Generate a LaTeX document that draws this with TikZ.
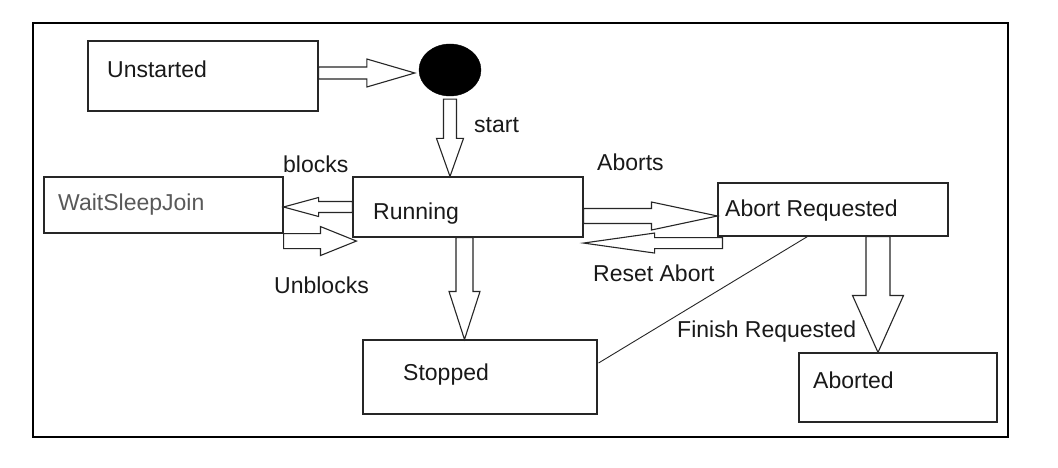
\documentclass[tikz,border=0pt]{standalone}
\usepackage{fontspec}
\setmainfont{Liberation Sans}
\usetikzlibrary{calc,shapes.geometric}
\tikzset{
  statebox/.style={draw=black!85, line width=1.1pt, minimum width=#1, inner sep=0pt},
  lbl/.style={inner sep=0pt, anchor=base west, font=\fontsize{23}{27}\selectfont, text=black!90},
  barrow/.style={draw=black!85, line width=1.1pt, fill=white, line join=miter},
}
\newcommand{\blockarrow}[5]{%
  \coordinate (ba-n) at ($(#2)!#5pt!(#1)$);
  \draw[barrow] ($(#1)!#3pt!90:(#2)$) -- ($(ba-n)!#3pt!90:(#2)$) -- ($(ba-n)!#4pt!90:(#2)$) -- (#2)
    -- ($(ba-n)!#4pt!-90:(#2)$) -- ($(ba-n)!#3pt!-90:(#2)$) -- ($(#1)!#3pt!-90:(#2)$) -- cycle;
}
\begin{document}
\begin{tikzpicture}[x=1pt,y=-1pt]
\useasboundingbox (0,0) rectangle (1058,468);
\fill[white] (0,0) rectangle (1058,468);
\draw[line width=2.5pt] (33,23) rectangle (1008,437);

% state boxes
\node[statebox=230pt, minimum height=70pt] (unstarted) at (203,76) {};
\node[statebox=239pt, minimum height=56pt] (wsj) at (163.5,205) {};
\node[statebox=230pt, minimum height=60pt] (running) at (468,207) {};
\node[statebox=230pt, minimum height=53pt] (abortreq) at (833,209.5) {};
\node[statebox=234pt, minimum height=74pt] (stopped) at (480,377) {};
\node[statebox=198pt, minimum height=69pt] (aborted) at (898,387.5) {};
\node[ellipse, fill=black, draw=black, minimum width=62pt, minimum height=52pt, inner sep=0pt] (circ) at (450,70) {};

% state texts
\node[lbl] (t-unstarted) at (107,78) {Unstarted};
\node[lbl, text=black!65] (t-wsj) at (58,211) {WaitSleepJoin};
\node[lbl] (t-running) at (373,219) {Running};
\node[lbl] (t-abortreq) at (725,216) {Abort Requested};
\node[lbl] (t-stopped) at (403,380) {Stopped};
\node[lbl] (t-aborted) at (813,388) {Aborted};

% block arrows
\coordinate (a1s) at ($(unstarted.east)+(0,-3)$);
\coordinate (a1e) at ($(circ.west)+(-4,3)$);
\blockarrow{a1s}{a1e}{6}{14}{48}

\coordinate (a2s) at ($(circ.south)+(0,3)$);
\coordinate (a2e) at (circ.south |- running.north);
\blockarrow{a2s}{a2e}{6.5}{13.5}{38}

\coordinate (a3s) at (running.west);
\coordinate (a3e) at (wsj.east |- running.west);
\blockarrow{a3s}{a3e}{5.5}{9.5}{35}

\coordinate (a4s) at ($(wsj.south east)+(0,7.5)$);
\coordinate (a4e) at ($(running.south west)+(4,3.5)$);
\blockarrow{a4s}{a4e}{7.5}{14.5}{36}

\coordinate (a5s) at ($(running.south)+(-3.5,0)$);
\coordinate (a5e) at (a5s |- stopped.north);
\blockarrow{a5s}{a5e}{8.5}{15.5}{48}

\coordinate (a6s) at ($(running.east)+(0,9)$);
\coordinate (a6e) at (abortreq.west |- a6s);
\blockarrow{a6s}{a6e}{7.5}{14}{66}

\coordinate (a7s) at ($(abortreq.south west)+(5,6.5)$);
\coordinate (a7e) at (running.east |- a7s);
\blockarrow{a7s}{a7e}{5.5}{10}{71}

\coordinate (a8s) at ($(abortreq.south)+(45,0)$);
\coordinate (a8e) at (a8s |- aborted.north);
\blockarrow{a8s}{a8e}{12}{25.5}{57}

% finish line
\draw[line width=0.9pt, black!85] ($(abortreq.south west)+(90,0)$) -- ($(stopped.east)+(1,-14)$);

% transition labels
\node[lbl] (l-start) at (474,133) {start};
\node[lbl] (l-blocks) at (283,172) {blocks};
\node[lbl] (l-unblocks) at (274,293) {Unblocks};
\node[lbl] (l-aborts) at (597,171) {Aborts};
\node[lbl] (l-reset) at (593,281) {Reset Abort};
\node[lbl] (l-finish) at (677,337) {Finish Requested};
\end{tikzpicture}
\end{document}
